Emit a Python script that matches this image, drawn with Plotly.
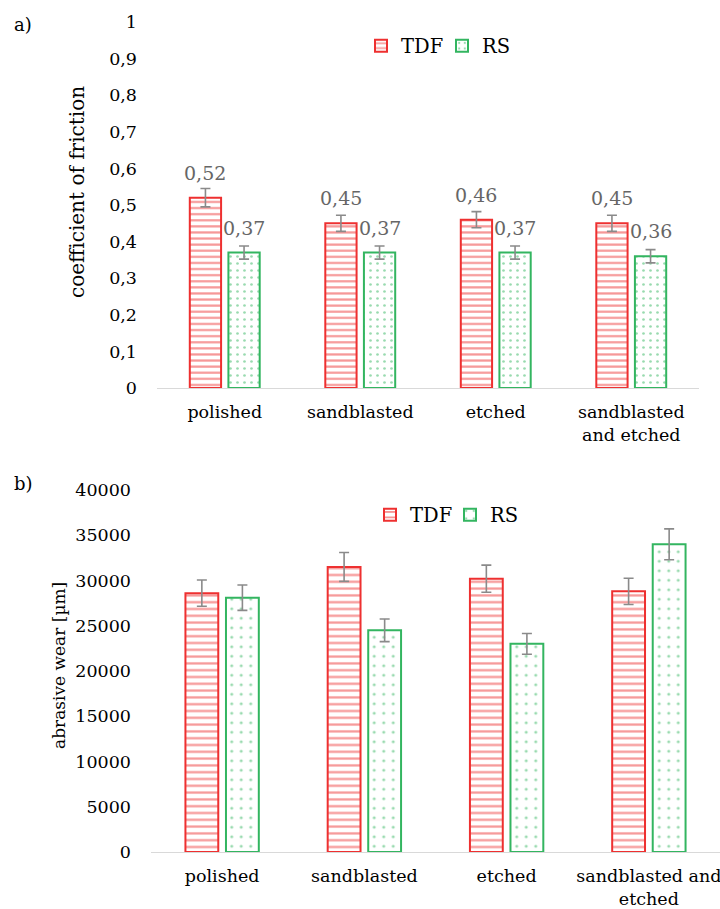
import plotly.graph_objects as go

# Surface treatments (category axis labels for each panel)
categories_a = ["polished", "sandblasted", "etched", "sandblasted<br>and etched"]
categories_b = ["polished", "sandblasted", "etched", "sandblasted and<br>etched"]

# a) coefficient of friction
cof_tdf = [0.52, 0.45, 0.46, 0.45]
cof_rs = [0.37, 0.37, 0.37, 0.36]
cof_tdf_err = [0.025, 0.022, 0.022, 0.022]
cof_rs_err = [0.018, 0.018, 0.018, 0.018]

# b) abrasive wear [µm]
wear_tdf = [28600, 31500, 30200, 28800]
wear_rs = [28100, 24500, 23000, 34000]
wear_tdf_err = [1450, 1600, 1500, 1450]
wear_rs_err = [1400, 1250, 1150, 1700]

RED = "#EE3030"
GREEN = "#33B560"
ERR = "#8A8A8A"
FONT = "DejaVu Serif"
W, H = 720, 909


def px_x(p):
    return p / W


def px_y(p):
    return 1 - p / H


def hatch(color, shape, size, solidity):
    return dict(shape=shape, fgcolor=color, size=size, solidity=solidity,
                fillmode="overlay")


err_style = dict(type="data", color=ERR, thickness=1.6, width=5)

fig = go.Figure()

# Panel a
fig.add_bar(x=categories_a, y=cof_tdf, name="TDF", xaxis="x", yaxis="y",
            marker=dict(color="white", line=dict(color=RED, width=2),
                        pattern=hatch(RED, "-", 6.1, 0.36)),
            error_y=dict(array=cof_tdf_err, **err_style), legend="legend")
fig.add_bar(x=categories_a, y=cof_rs, name="RS", xaxis="x", yaxis="y",
            marker=dict(color="white", line=dict(color=GREEN, width=2),
                        pattern=hatch(GREEN, ".", 7, 0.12)),
            error_y=dict(array=cof_rs_err, **err_style), legend="legend")

# Panel b
fig.add_bar(x=categories_b, y=wear_tdf, name="TDF", xaxis="x2", yaxis="y2",
            marker=dict(color="white", line=dict(color=RED, width=2),
                        pattern=hatch(RED, "-", 6.8, 0.33)),
            error_y=dict(array=wear_tdf_err, **err_style), legend="legend2")
fig.add_bar(x=categories_b, y=wear_rs, name="RS", xaxis="x2", yaxis="y2",
            marker=dict(color="white", line=dict(color=GREEN, width=2),
                        pattern=hatch(GREEN, ".", 9.5, 0.08)),
            error_y=dict(array=wear_rs_err, **err_style), legend="legend2")

annotations = []
# value labels above the friction bars
for vals, shift in ((cof_tdf, -19.3), (cof_rs, 19.3)):
    for cat, v in zip(categories_a, vals):
        annotations.append(dict(
            x=cat, y=v, xref="x", yref="y", xshift=shift, yshift=12,
            yanchor="bottom", showarrow=False,
            text=f"{v:.2f}".replace(".", ","),
            font=dict(family=FONT, size=19, color="#666666")))

# panel letters and axis titles
annotations += [
    dict(x=px_x(12), y=px_y(25), xref="paper", yref="paper", xanchor="left",
         yanchor="middle", text="a)", showarrow=False,
         font=dict(family=FONT, size=18, color="black")),
    dict(x=px_x(12), y=px_y(483), xref="paper", yref="paper", xanchor="left",
         yanchor="middle", text="b)", showarrow=False,
         font=dict(family=FONT, size=18, color="black")),
    dict(x=px_x(77), y=px_y(192), xref="paper", yref="paper", xanchor="center",
         yanchor="middle", text="coefficient of friction", textangle=-90,
         showarrow=False, font=dict(family=FONT, size=20, color="black")),
    dict(x=px_x(59), y=px_y(666), xref="paper", yref="paper", xanchor="center",
         yanchor="middle", text="abrasive wear [µm]", textangle=-90,
         showarrow=False, font=dict(family=FONT, size=17, color="black")),
]

axis_font = dict(family=FONT, size=17.5, color="black")
xcommon = dict(type="category", showline=True, linecolor="#D9D9D9",
               linewidth=1.3, showgrid=False, ticks="", tickfont=axis_font,
               ticklabelstandoff=8, automargin=False)
ycommon = dict(showgrid=False, zeroline=False, showline=False, ticks="",
               tickfont=axis_font, ticklabelstandoff=19, automargin=False)

fig.update_layout(
    width=W, height=H,
    margin=dict(l=0, r=0, t=0, b=0, autoexpand=False),
    paper_bgcolor="white", plot_bgcolor="white",
    separators=", ",
    barmode="group", bargap=0.43, bargroupgap=0.19,
    font=dict(family=FONT, color="black"),
    xaxis=dict(domain=[px_x(157), px_x(699)], anchor="y", **xcommon),
    yaxis=dict(domain=[px_y(388), px_y(22)], anchor="x", range=[0, 1],
               dtick=0.1, **ycommon),
    xaxis2=dict(domain=[px_x(151), 1.0], anchor="y2", **xcommon),
    yaxis2=dict(domain=[px_y(852), px_y(490)], anchor="x2", range=[0, 40000],
                dtick=5000, tickformat="d", **ycommon),
    legend=dict(orientation="h", x=px_x(361), y=px_y(46), xanchor="left",
                yanchor="middle", font=dict(family=FONT, size=19.5),
                entrywidth=36, entrywidthmode="pixels", itemwidth=30,
                bgcolor="rgba(0,0,0,0)"),
    legend2=dict(orientation="h", x=px_x(370), y=px_y(515), xanchor="left",
                 yanchor="middle", font=dict(family=FONT, size=19.5),
                 entrywidth=35, entrywidthmode="pixels", itemwidth=30,
                 bgcolor="rgba(0,0,0,0)"),
    annotations=annotations,
    showlegend=True,
)

fig.write_html("out.html")
